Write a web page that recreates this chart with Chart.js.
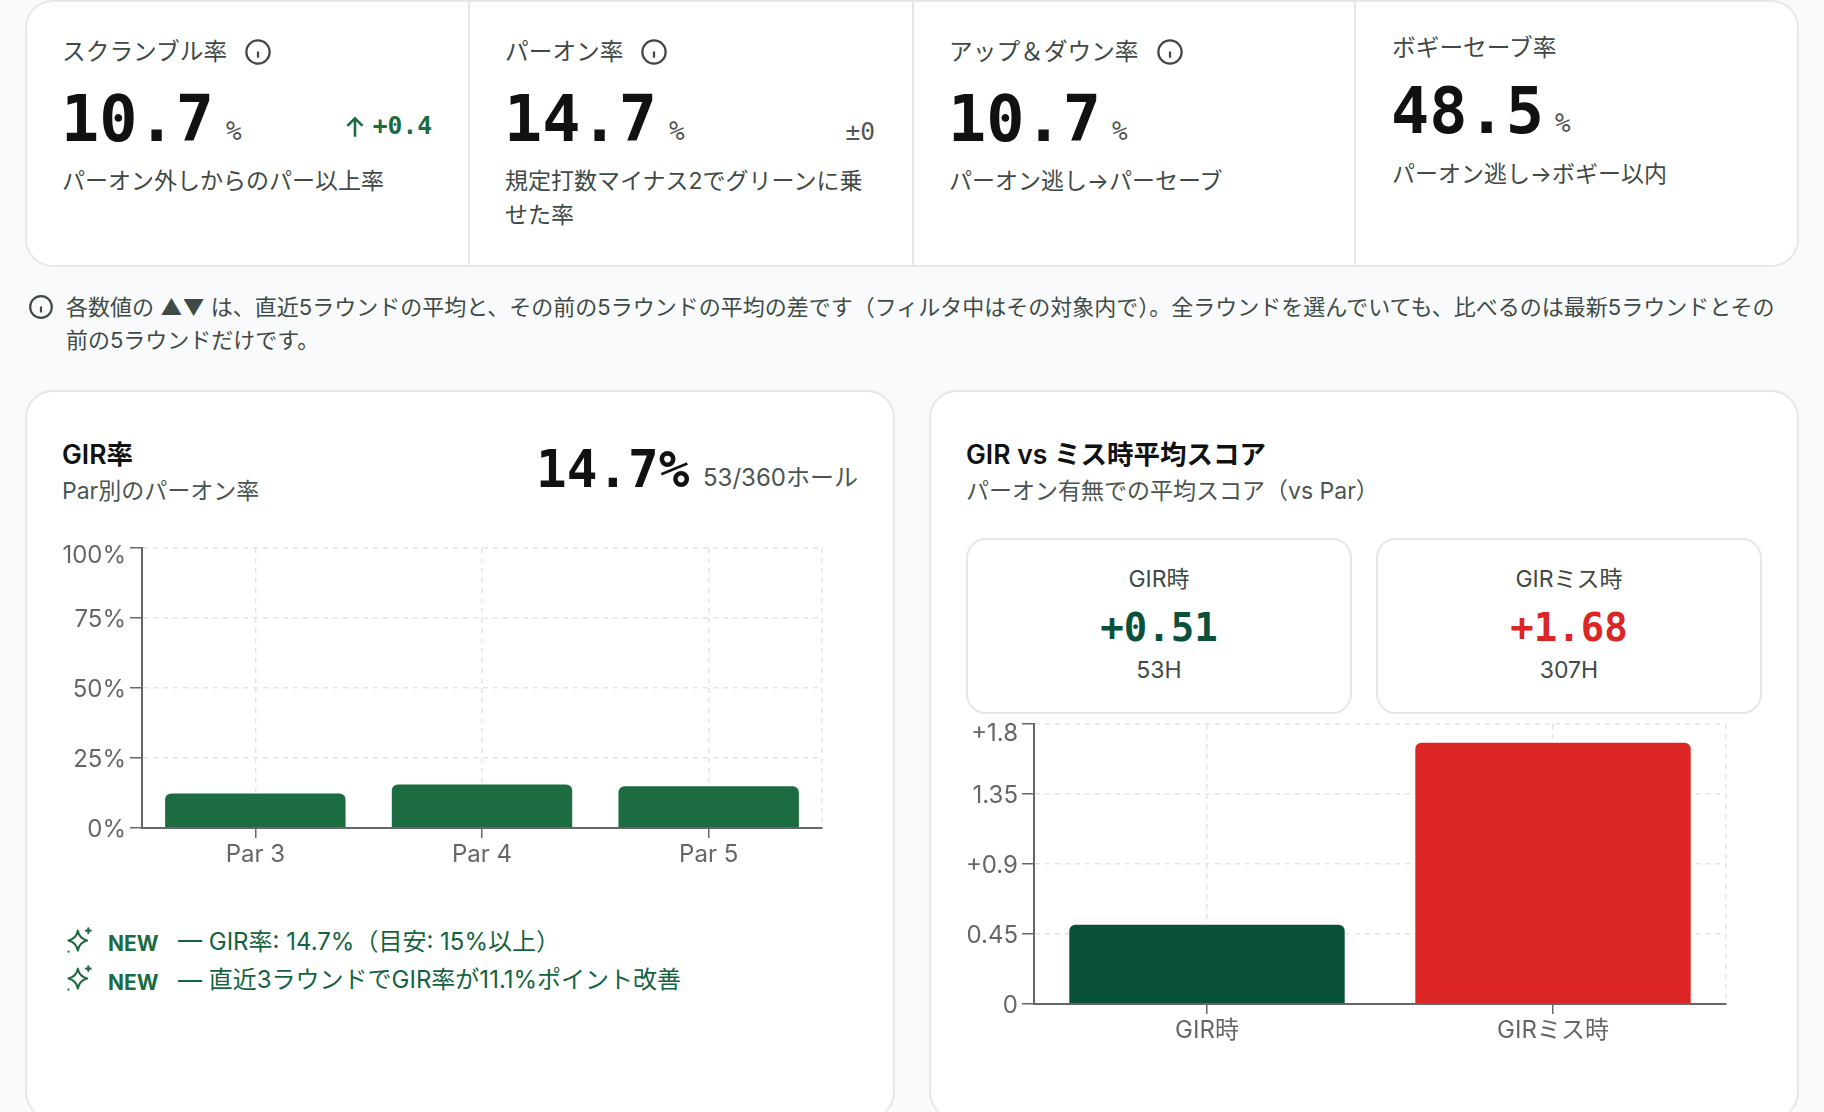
<!DOCTYPE html>
<html lang="ja">
<head>
<meta charset="utf-8">
<title>GIR</title>
<script src="https://cdn.jsdelivr.net/npm/chart.js@4"></script>
<style>
  html, body { margin: 0; padding: 0; }
  body {
    width: 1824px; height: 1112px; position: relative; overflow: hidden;
    background: #f8fafb; color: #3f4a45;
    font-family: Inter, "Noto Sans CJK JP", sans-serif;
  }
  .abs { position: absolute; white-space: nowrap; line-height: 1; }
  .mid { transform: translateY(-50%); }
  .card {
    position: absolute; box-sizing: border-box; background: #fff;
    border: 2px solid #e6e8e8; border-radius: 28px;
  }
  .divider { position: absolute; top: 1px; width: 2px; height: 265px; background: #e6e8e8; }
  .mono { font-family: "DejaVu Sans Mono", monospace; }
  .kpi-title { font-size: 23.7px; }
  .kpi-num { font-size: 63.5px; font-weight: 700; color: #111; }
  .kpi-unit { font-size: 26px; color: #555; }
  .kpi-desc { font-size: 23px; }
  .panel-title { font-size: 26.5px; font-weight: 600; color: #111; }
  .panel-sub { font-size: 23px; color: #4a5550; }
  .note { font-size: 22px; color: #3f4a45; }
  .mini { position: absolute; box-sizing: border-box; background: #fff; border: 2px solid #e6e8e8; border-radius: 20px; }
  .center { transform: translate(-50%, -50%); }
  .tip { font-size: 24px; color: #14633f; }
  .new { font-size: 21px; font-weight: 700; color: #1c6b41; }
  svg.ic { position: absolute; fill: none; }
  .wrap { position: absolute; }
</style>
</head>
<body>
<div class="card" style="left:25px;top:0;width:1774px;height:267px"></div>
<div class="divider" style="left:468px"></div>
<div class="divider" style="left:912px"></div>
<div class="divider" style="left:1354px"></div>

<div class="abs mid kpi-title" style="left:62px;top:52px">スクランブル率</div>
<svg class="ic" style="left:244px;top:38px" width="28" height="28" viewBox="0 0 24 24" stroke="#3f4a45" stroke-width="1.9"><circle cx="12" cy="12" r="10"/><path d="M12 17v-5.500M12 7.500h.01"/></svg>
<div class="abs mono kpi-num" style="left:61px;top:88px">10.7</div>
<div class="abs mono kpi-unit" style="left:226px;top:118px">%</div>
<svg class="ic" style="left:342px;top:114px" width="26" height="26" viewBox="0 0 24 24" stroke="#1c6b41" stroke-width="2.4"><path d="M12 21V4M5 11l7-7 7 7"/></svg>
<div class="abs mono" style="right:1392px;top:114px;font-size:24.6px;font-weight:700;color:#1c6b41">+0.4</div>
<div class="abs mid kpi-desc" style="left:62px;top:181px">パーオン外しからのパー以上率</div>

<div class="abs mid kpi-title" style="left:505px;top:52px">パーオン率</div>
<svg class="ic" style="left:640px;top:38px" width="28" height="28" viewBox="0 0 24 24" stroke="#3f4a45" stroke-width="1.9"><circle cx="12" cy="12" r="10"/><path d="M12 17v-5.500M12 7.500h.01"/></svg>
<div class="abs mono kpi-num" style="left:504px;top:88px">14.7</div>
<div class="abs mono kpi-unit" style="left:669px;top:118px">%</div>
<div class="abs mono" style="right:949px;top:120px;font-size:24.6px;color:#555">±0</div>
<div class="abs mid kpi-desc" style="left:505px;top:181px">規定打数マイナス2でグリーンに乗</div>
<div class="abs mid kpi-desc" style="left:505px;top:215px">せた率</div>

<div class="abs mid kpi-title" style="left:949px;top:52px">アップ＆ダウン率</div>
<svg class="ic" style="left:1156px;top:38px" width="28" height="28" viewBox="0 0 24 24" stroke="#3f4a45" stroke-width="1.9"><circle cx="12" cy="12" r="10"/><path d="M12 17v-5.500M12 7.500h.01"/></svg>
<div class="abs mono kpi-num" style="left:948px;top:88px">10.7</div>
<div class="abs mono kpi-unit" style="left:1112px;top:118px">%</div>
<div class="abs mid kpi-desc" style="left:949px;top:181px">パーオン逃し→パーセーブ</div>

<div class="abs mid kpi-title" style="left:1392px;top:48px">ボギーセーブ率</div>
<div class="abs mono kpi-num" style="left:1391px;top:80px">48.5</div>
<div class="abs mono kpi-unit" style="left:1555px;top:110px">%</div>
<div class="abs mid kpi-desc" style="left:1392px;top:174px">パーオン逃し→ボギー以内</div>

<svg class="ic" style="left:28px;top:294px" width="26" height="26" viewBox="0 0 24 24" stroke="#3f4a45" stroke-width="2"><circle cx="12" cy="12" r="10"/><path d="M12 17v-5.500M12 7.500h.01"/></svg>
<div class="abs mid note" style="left:66px;top:307px">各数値の ▲▼ は、直近5ラウンドの平均と、その前の5ラウンドの平均の差です（フィルタ中はその対象内で）。全ラウンドを選んでいても、比べるのは最新5ラウンドとその</div>
<div class="abs mid note" style="left:66px;top:340px">前の5ラウンドだけです。</div>

<div class="card" style="left:25px;top:390px;width:870px;height:730px"></div>
<div class="abs mid panel-title" style="left:62px;top:454px">GIR率</div>
<div class="abs mid panel-sub" style="left:62px;top:491px">Par別のパーオン率</div>
<div class="abs mono" style="left:536px;top:444px;font-size:51px;font-weight:700;color:#111">14.7%</div>
<div class="abs" style="left:703px;top:466px;font-size:24px;color:#4a5550">53/360ホール</div>
<div class="wrap" style="left:50px;top:518px;width:780px;height:374px"><canvas id="parChart"></canvas></div>

<svg class="ic" style="left:65px;top:926px" width="28" height="28" viewBox="0 0 24 24" stroke="#1c6b41" stroke-width="1.8" stroke-linecap="round" stroke-linejoin="round"><path d="M11 4c.9 5 3.200 7.300 8 8.500-4.800 1.200-7.100 3.500-8 8.500-.9-5-3.200-7.300-8-8.500 4.800-1.200 7.100-3.500 8-8.500z"/><path d="M20 2v4M18 4h4M3 22h.01"/></svg>
<div class="abs mid new" style="left:108px;top:943px">NEW</div>
<div class="abs mid tip" style="left:178px;top:942px">— GIR率: 14.7%（目安: 15%以上）</div>
<svg class="ic" style="left:65px;top:964px" width="28" height="28" viewBox="0 0 24 24" stroke="#1c6b41" stroke-width="1.8" stroke-linecap="round" stroke-linejoin="round"><path d="M11 4c.9 5 3.200 7.300 8 8.500-4.800 1.200-7.100 3.500-8 8.500-.9-5-3.200-7.300-8-8.500 4.800-1.200 7.100-3.500 8-8.500z"/><path d="M20 2v4M18 4h4M3 22h.01"/></svg>
<div class="abs mid new" style="left:108px;top:982px">NEW</div>
<div class="abs mid tip" style="left:178px;top:980px">— 直近3ラウンドでGIR率が11.1%ポイント改善</div>

<div class="card" style="left:929px;top:390px;width:870px;height:730px"></div>
<div class="abs mid panel-title" style="left:966px;top:454px">GIR vs ミス時平均スコア</div>
<div class="abs mid panel-sub" style="left:966px;top:491px">パーオン有無での平均スコア（vs Par）</div>
<div class="mini" style="left:966px;top:538px;width:386px;height:176px"></div>
<div class="mini" style="left:1376px;top:538px;width:386px;height:176px"></div>
<div class="abs center" style="left:1159px;top:579px;font-size:23px">GIR時</div>
<div class="abs center mono" style="left:1159px;top:627px;font-size:39px;font-weight:700;color:#0a513c">+0.51</div>
<div class="abs center" style="left:1159px;top:670px;font-size:23px">53H</div>
<div class="abs center" style="left:1569px;top:579px;font-size:23px">GIRミス時</div>
<div class="abs center mono" style="left:1569px;top:627px;font-size:39px;font-weight:700;color:#dc2626">+1.68</div>
<div class="abs center" style="left:1569px;top:670px;font-size:23px">307H</div>
<div class="wrap" style="left:950px;top:694px;width:784px;height:374px"><canvas id="scoreChart"></canvas></div>

<script>
// ---------- DATA ----------
const parLabels = ["Par 3", "Par 4", "Par 5"];
const parRates = [12.3, 15.5, 14.9];
const parTicks = ["0%", "25%", "50%", "75%", "100%"];

const scoreLabels = ["GIR時", "GIRミス時"];
const scoreValues = [0.51, 1.68];
const scoreTicks = ["0", "0.45", "+0.9", "1.35", "+1.8"];

// ---------- SHARED OPTIONS ----------
const TICK_COLOR = "#666666";
const AXIS_COLOR = "#666666";
const GRID_COLOR = "#e3e3e3";
const FONT_FAMILY = 'Inter, "Noto Sans CJK JP", sans-serif';

// dashed line on the right edge of the plot, the scales do not draw one
const rightEdge = {
  id: "rightEdge",
  beforeDatasetsDraw(chart) {
    const { ctx, chartArea } = chart;
    ctx.save();
    ctx.strokeStyle = GRID_COLOR;
    ctx.lineWidth = 1.5;
    ctx.setLineDash([5, 5]);
    ctx.beginPath();
    ctx.moveTo(chartArea.right, chartArea.top);
    ctx.lineTo(chartArea.right, chartArea.bottom);
    ctx.stroke();
    ctx.restore();
  }
};

function barChart(id, labels, values, colors, tickLabels, yMax, yStep, axisWidth, topShift) {
  return new Chart(document.getElementById(id), {
    type: "bar",
    data: {
      labels,
      datasets: [{
        data: values,
        backgroundColor: colors,
        borderRadius: { topLeft: 6, topRight: 6 },
        borderSkipped: "bottom",
        barPercentage: 0.8,
        categoryPercentage: 0.995
      }]
    },
    options: {
      responsive: true,
      maintainAspectRatio: false,
      animation: false,
      layout: { padding: { top: 30, right: 8, left: 0, bottom: 0 } },
      plugins: { legend: { display: false }, tooltip: { enabled: false } },
      scales: {
        x: {
          afterFit(scale) { scale.height = 64; },
          grid: { offset: false, color: GRID_COLOR, lineWidth: 1.5, tickLength: 10, tickColor: AXIS_COLOR },
          border: { color: AXIS_COLOR, width: 2, dash: [5, 5], z: 1 },
          ticks: { color: TICK_COLOR, font: { family: FONT_FAMILY, size: 24 }, padding: 2, maxRotation: 0 }
        },
        y: {
          min: 0,
          max: yMax,
          afterFit(scale) { scale.width = axisWidth; },
          grid: { color: GRID_COLOR, lineWidth: 1.5, tickLength: 12, tickColor: AXIS_COLOR },
          border: { color: AXIS_COLOR, width: 2, dash: [5, 5], z: 1 },
          ticks: {
            stepSize: yStep,
            color: TICK_COLOR,
            padding: 4,
            // labels sit a little below their ticks in the original, the top one more so
            font: ctx => ({
              family: FONT_FAMILY,
              size: 24,
              lineHeight: (ctx.index === tickLabels.length - 1 ? topShift : 2) * 2 + "px"
            }),
            callback: (v, i) => ["", tickLabels[i]]
          }
        }
      }
    },
    plugins: [rightEdge]
  });
}

barChart("parChart", parLabels, parRates, "#1c6b41", parTicks, 100, 25, 92, 8);
barChart("scoreChart", scoreLabels, scoreValues, ["#0a513c", "#dc2626"], scoreTicks, 1.8, 0.45, 84, 10);
</script>
</body>
</html>
